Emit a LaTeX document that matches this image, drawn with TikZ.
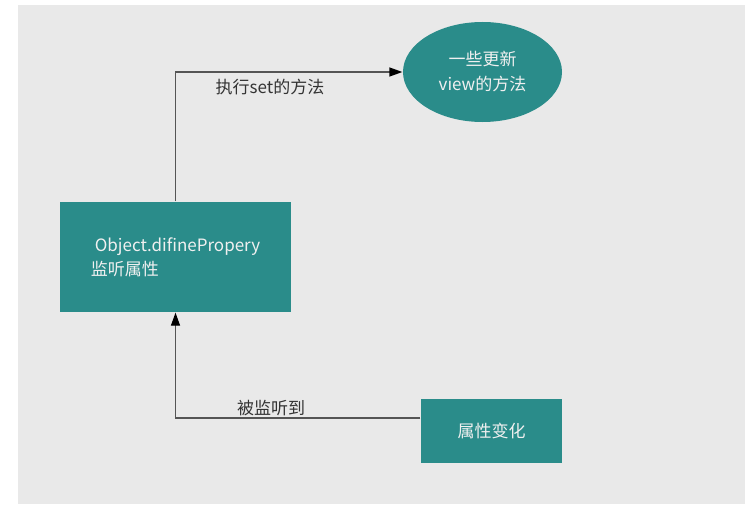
\documentclass[tikz,border=0pt]{standalone}
\usepackage{fontspec}
\setmainfont{Noto Sans CJK SC}
\usetikzlibrary{shapes.geometric,arrows.meta}

\definecolor{boxteal}{RGB}{42,140,138}
\definecolor{paper}{RGB}{233,233,233}
\definecolor{wire}{RGB}{85,85,85}

\begin{document}
\begin{tikzpicture}[x=1pt,y=-1pt,font=\fontsize{17}{24}\selectfont,
    -{Triangle[length=13pt,width=9pt,color=black]},draw=wire,line width=1.3pt]
    \tikzstyle{step node}=[fill=boxteal,text=white!94!black,draw=none,inner sep=0pt]
    \tikzstyle{box node}=[step node,rectangle]
    \tikzstyle{view node}=[step node,ellipse]
    \tikzstyle{edge label}=[text=black!80,inner sep=0pt]

    % Page and grey background
    \useasboundingbox (0,0) rectangle (751,524);
    \fill[paper] (18,5) rectangle (745,504);

    % Draw the nodes
    \node[box node,minimum width=231pt,minimum height=110pt,align=left]
        (define) at (175.5,257) {\hspace{4pt}Object.difinePropery\\监听属性};
    \node[view node,minimum width=159pt,minimum height=100pt,align=center,
        font=\fontsize{17}{25}\selectfont]
        (view) at (482.5,72) {一些更新\\view的方法};
    \node[box node,minimum width=141pt,minimum height=64pt]
        (change) at (491.5,431) {属性变化};

    % Free end of the lower connector
    \coordinate (change-out) at ([yshift=13pt]change.west);

    % Connect the nodes
    \draw (define.north) |- (view.west);
    \draw (change-out) -| (define.south);

    % Labels of the connectors
    \node[edge label] (set-label) at (270,87) {执行set的方法};
    \node[edge label] (watch-label) at (271,408) {被监听到};
\end{tikzpicture}
\end{document}
